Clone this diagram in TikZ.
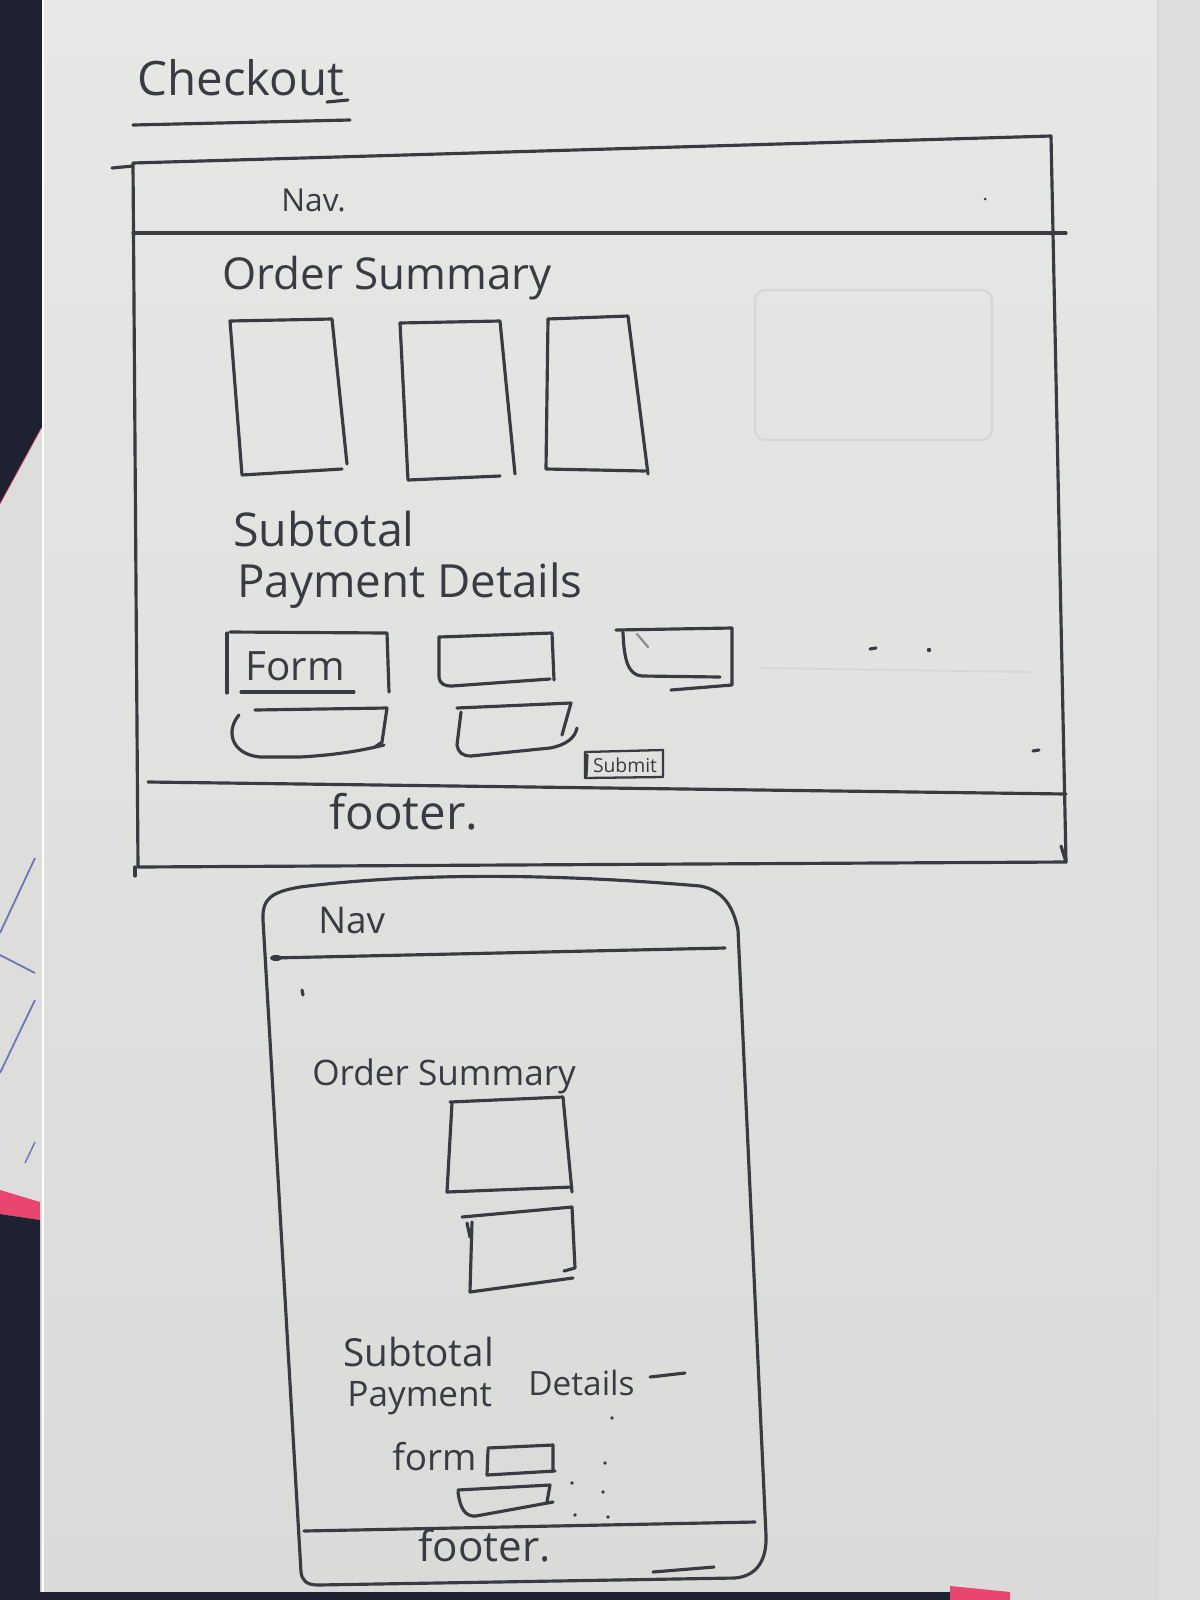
\documentclass[tikz,border=0pt]{standalone}
\usepackage{fontspec}
\setmainfont{Open Sans}
\definecolor{inkc}{HTML}{3A3B42}
\definecolor{paperA}{HTML}{E7E7E5}
\definecolor{paperB}{HTML}{DADAD8}
\definecolor{sidepaper}{HTML}{DDDDDB}
\definecolor{deskc}{HTML}{1E2130}
\definecolor{pinkc}{HTML}{E8456F}
\definecolor{bluec}{HTML}{6A74B8}
\definecolor{ghost}{HTML}{D6D6D4}
\begin{document}
\begin{tikzpicture}[x=0.02cm,y=-0.02cm,
  ink/.style={draw=inkc,line width=1.8pt,line cap=round,line join=round},
  thinink/.style={draw=inkc,line width=1.3pt,line cap=round,line join=round},
  hand/.style={text=inkc,inner sep=0pt,anchor=base west},
  fs/.style={font=\fontsize{#1}{#1}\selectfont},
]
\useasboundingbox (0,0) rectangle (1200,1600);

% ---- paper and surroundings ----
\shade[top color=paperA,bottom color=paperB] (0,0) rectangle (1200,1600);
\fill[sidepaper] (1158,0) rectangle (1200,1600);
\draw[ghost,line width=1pt] (1158,0) -- (1158,1600);
% desk at the left, with a pink sheet corner
\fill[deskc] (0,0) -- (42,0) -- (42,428) -- (0,505) -- cycle;
\draw[pinkc,line width=1pt] (42,428) -- (0,505);
\fill[sidepaper] (0,505) -- (42,428) -- (42,1203) -- (0,1190) -- cycle;
\draw[white,line width=1pt] (43,0) -- (43,1600);
\draw[bluec,line width=1pt] (35,858) -- (0,933);
\draw[bluec,line width=1pt] (0,955) -- (35,973);
\draw[bluec,line width=1pt] (35,1000) -- (0,1073);
\draw[bluec,line width=0.8pt] (35,1142) -- (25,1163);
\fill[pinkc] (0,1190) -- (40,1202) -- (40,1220) -- (0,1214) -- cycle;
\fill[deskc] (0,1214) -- (40,1220) -- (40,1600) -- (0,1600) -- cycle;
% bottom strip
\fill[deskc] (0,1592) rectangle (950,1600);
\fill[pinkc] (950,1586) -- (1010,1592) -- (1010,1600) -- (950,1600) -- cycle;

% faint marks showing through from the back of the sheet
\draw[ghost,line width=1.2pt,rounded corners=6] (755,290) rectangle (992,440);
\draw[ghost,line width=1pt] (760,668) -- (1030,672);

% ---- title ----
\node[hand,fs=27] (title) at (137,95) {Checkout};
\draw[ink] (133,125) -- (350,120);
\draw[ink] (327,102) -- (348,100);

% ---- desktop frame ----
\draw[ink] (133,163) -- (1051,136) -- (1066,862) -- (138,867) -- cycle;
\draw[ink] (112,168) -- (133,166);
\draw[ink] (135,867) -- (135,876);
\draw[ink] (1061,846) -- (1066,862);
\draw[ink] (133,233) -- (1066,233);
\draw[ink] (148,782) -- (1066,794);
\fill[inkc] (985,199) circle (1.5);

\node[hand,fs=18] (dnav) at (281,211) {Nav.};
\node[hand,fs=25] (dorder) at (222,289) {Order Summary};

% product cards
\draw[ink] (230,321) -- (332,319) -- (347,464);
\draw[ink] (230,321) -- (242,475) -- (342,469);
\draw[ink] (400,323) -- (500,321) -- (515,474);
\draw[ink] (400,323) -- (408,480) -- (500,476);
\draw[ink] (548,319) -- (628,316) -- (648,474);
\draw[ink] (548,319) -- (546,469) -- (645,471);

\node[hand,fs=26.5] (dsub) at (233,546) {Subtotal};
\node[hand,fs=26] (dpay) at (237,597) {Payment Details};

% payment form fields
\draw[ink] (230,632) -- (387,633) -- (389,692);
\draw[ink] (227,633) -- (227,693);
\draw[ink] (241,692) -- (354,692);
\node[hand,fs=23] (dform) at (245,680) {Form};

\draw[ink] (439,637) -- (552,633) -- (554,680);
\draw[ink] (439,637) -- (439,677) .. controls (440,684) and (444,686) .. (452,686) -- (550,679);

\draw[ink] (616,630) -- (732,628) -- (732,685) -- (671,690);
\draw[ink] (623,632) .. controls (624,660) and (628,675) .. (642,676) -- (720,677);
\draw[thinink,draw opacity=0.5] (637,634) -- (648,647);

\draw[ink] (255,710) -- (387,708) -- (382,742) -- (375,747);
\draw[ink] (239,715) .. controls (226,730) and (230,754) .. (260,757) -- (300,757) .. controls (335,755) and (360,751) .. (384,745);

\draw[ink] (457,708) -- (571,703) -- (562,735);
\draw[ink] (461,712) -- (457,745) .. controls (458,752) and (462,756) .. (471,756) -- (550,748) .. controls (566,745) and (575,738) .. (577,728);

% submit button
\draw[thinink] (585,752) -- (663,750) -- (663,777) -- (585,778) -- cycle;
\draw[ink] (587,755) -- (586,776);
\node[text=inkc,fs=11,inner sep=0pt] (dsubmit) at (625,765) {Submit};

% stray pen marks
\draw[ink] (870,649) -- (876,648);
\fill[inkc] (929,650) circle (2.2);
\draw[ink] (1033,751) -- (1039,750);

\node[hand,fs=27] (dfoot) at (329,829) {footer.};

% ---- mobile frame ----
\draw[ink] (263,920) .. controls (262,898) and (272,892) .. (300,887)
  .. controls (420,872) and (560,874) .. (700,886)
  .. controls (722,890) and (733,905) .. (738,930)
  -- (766,1535) .. controls (767,1560) and (757,1576) .. (735,1578)
  -- (318,1585) .. controls (306,1585) and (302,1580) .. (301,1572)
  -- cycle;
\draw[ink] (653,1572) -- (714,1567);

\draw[ink] (272,958) -- (725,948);
\fill[inkc] (276,958) ellipse (6 and 3);
\node[hand,fs=21] (mnav) at (318,933) {Nav};
\draw[ink] (302,990) -- (303,995);

\node[hand,fs=20] (morder) at (312,1085) {Order Summary};

\draw[ink] (450,1102) -- (563,1097) -- (572,1192);
\draw[ink] (452,1103) -- (447,1192) -- (572,1187);

\draw[ink] (462,1217) -- (572,1207) -- (575,1268) -- (564,1271);
\draw[ink] (472,1222) -- (470,1292) -- (573,1278);
\draw[ink] (467,1223) -- (470,1237);

\node[hand,fs=22] (msub) at (343,1366) {Subtotal};
\node[hand,fs=20] (mpay) at (347,1406) {Payment};
\node[hand,fs=19] (mdet) at (528,1395) {Details};
\draw[ink] (650,1377) -- (685,1373);

\node[hand,fs=21] (mform) at (392,1470) {form};
\draw[ink] (488,1448) -- (553,1445) -- (553,1470);
\draw[ink] (488,1450) -- (487,1475) -- (555,1471);
\draw[ink] (458,1490) -- (550,1485) -- (547,1502);
\draw[ink] (458,1492) .. controls (460,1508) and (465,1517) .. (476,1516) -- (553,1502);

\foreach \p in {(612,1418),(605,1463),(572,1483),(603,1492),(575,1515),(608,1517)}
  \fill[inkc] \p circle (1.8);

\draw[ink] (304,1531) -- (755,1522);
\node[hand,fs=24] (mfoot) at (418,1561) {footer.};
\end{tikzpicture}
\end{document}
